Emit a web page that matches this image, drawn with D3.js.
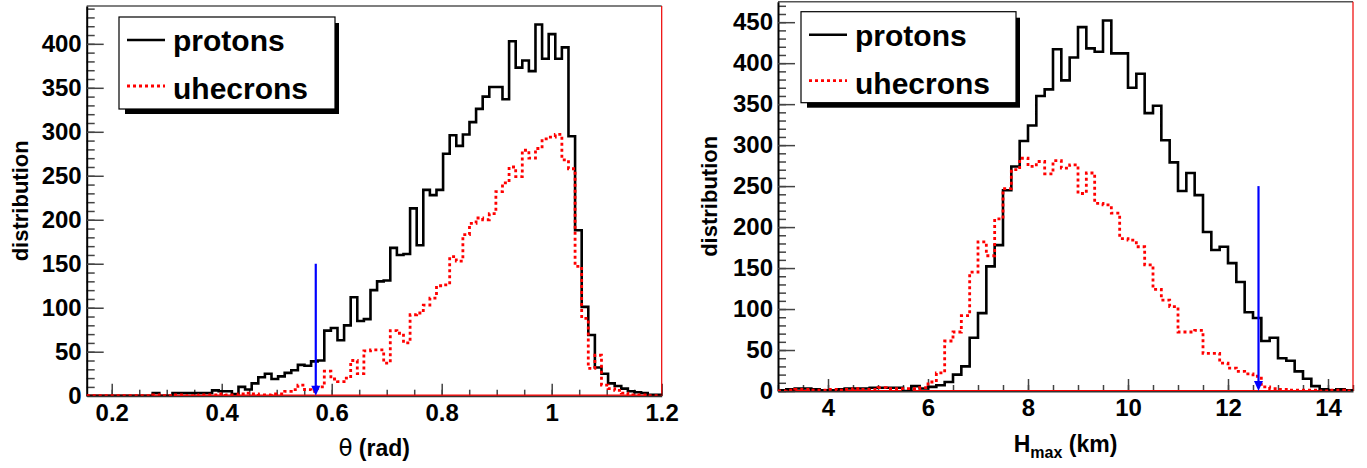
<!DOCTYPE html>
<html>
<head>
<meta charset="utf-8">
<script src="https://cdn.jsdelivr.net/npm/d3@7"></script>
<style>
  body { margin: 0; background: #fff; }
  svg { display: block; }
</style>
</head>
<body>
<svg id="chart" width="1367" height="468"></svg>
<script>
// ---- data ----
// theta histogram: 87 bins of 0.012 rad starting at 0.1545
const thetaBinStart = 0.1545;
const thetaBinWidth = 0.012;
const thetaProtons = [
  0, 0, 0, 0, 0, 0, 0, 0, 0, 0,
  3, 0, 0, 3, 3, 3, 3, 3, 3, 6,
  5, 5, 2, 10, 7, 14, 21, 25, 19, 22,
  26, 29, 35, 34, 39, 40, 74, 77, 63, 80,
  112, 85, 87, 120, 130, 131, 168, 160, 161, 213,
  171, 234, 228, 234, 275, 296, 284, 297, 311, 326,
  340, 351, 351, 337, 403, 373, 381, 369, 422, 383,
  411, 383, 396, 295, 188, 101, 69, 32, 25, 14,
  11, 8, 5, 4, 3, 1, 1
];
const thetaUhecrons = [
  0, 0, 0, 0, 0, 0, 0, 0, 0, 0,
  1, 0, 0, 1, 1, 0, 0, 1, 1, 1,
  2, 1, 1, 2, 3, 2, 1, 1, 2, 2,
  5, 7, 12, 7, 5, 10, 28, 19, 16, 20,
  40, 25, 51, 52, 52, 37, 74, 71, 60, 92,
  94, 103, 111, 125, 126, 158, 153, 183, 196, 202,
  200, 207, 232, 242, 260, 249, 279, 270, 281, 292,
  294, 297, 268, 258, 147, 88, 31, 46, 12, 8,
  6, 3, 1, 1, 1, 0, 0
];
const thetaXTicks = [0.2, 0.4, 0.6, 0.8, 1.0, 1.2];
const thetaYTicks = [0, 50, 100, 150, 200, 250, 300, 350, 400];
const thetaCut = 0.571;
const thetaCutTop = 150;

// Hmax histogram: 69 bins of 1/6 km starting at 3 km
const hmaxBinStart = 3;
const hmaxBinWidth = 1 / 6;
const hmaxProtons = [
  1, 2, 3, 3, 2, 1, 1, 2, 3, 3,
  3, 4, 4, 4, 4, 0, 6, 3, 5, 7,
  11, 20, 30, 65, 95, 152, 178, 245, 274, 305,
  324, 360, 368, 417, 379, 407, 444, 418, 414, 452,
  412, 412, 370, 387, 339, 348, 306, 279, 244, 266,
  239, 194, 172, 176, 156, 133, 96, 89, 61, 65,
  40, 37, 24, 15, 6, 2, 1, 2, 1
];
const hmaxUhecrons = [
  0, 1, 2, 2, 1, 1, 2, 1, 2, 3,
  2, 2, 4, 3, 3, 3, 3, 4, 11, 22,
  61, 72, 92, 145, 182, 165, 210, 247, 270, 284,
  274, 280, 265, 281, 272, 276, 241, 266, 229, 227,
  217, 186, 184, 176, 154, 124, 111, 103, 72, 72,
  74, 46, 46, 34, 28, 24, 21, 18, 5, 3,
  2, 1, 1, 1, 1, 0, 1, 1, 0
];
const hmaxXTicks = [4, 6, 8, 10, 12, 14];
const hmaxYTicks = [0, 50, 100, 150, 200, 250, 300, 350, 400, 450];
const hmaxCut = 12.61;
const hmaxCutTop = 250;

const seriesNames = ['protons', 'uhecrons'];

const FONT = '"Liberation Sans", Arial, Helvetica, sans-serif';
const svg = d3.select('#chart');

function stepPath(counts, start, width, x, y) {
  let p = `M${x(start)},${y(0)}`;
  counts.forEach((c, i) => {
    p += `V${y(c)}H${x(start + (i + 1) * width)}`;
  });
  return p + `V${y(0)}`;
}

function drawPanel(cfg) {
  const x = d3.scaleLinear().domain(cfg.xDomain).range([cfg.left, cfg.right]);
  const y = d3.scaleLinear().domain(cfg.yDomain).range([cfg.bottom, cfg.top]);
  const g = svg.append('g');

  g.append('clipPath').attr('id', cfg.id + '-clip')
    .append('rect')
    .attr('x', cfg.left).attr('y', cfg.top)
    .attr('width', cfg.right - cfg.left).attr('height', cfg.bottom - cfg.top);

  // frame top
  g.append('line')
    .attr('x1', cfg.left).attr('x2', cfg.right)
    .attr('y1', cfg.top).attr('y2', cfg.top)
    .attr('stroke', '#555').attr('stroke-width', 1.5);

  // minor ticks
  const yMinor = d3.range(cfg.yDomain[0], cfg.yDomain[1], 10);
  g.append('g')
    .attr('transform', `translate(${cfg.left},0)`)
    .call(d3.axisLeft(y).tickValues(yMinor).tickSizeInner(-8).tickSizeOuter(0).tickFormat(''))
    .call(s => s.select('.domain').remove())
    .selectAll('line').attr('stroke', '#444').attr('stroke-width', 1.5);

  const xMinor = d3.range(Math.ceil(cfg.xDomain[0] / cfg.xMinorStep) * cfg.xMinorStep, cfg.xDomain[1] + 1e-9, cfg.xMinorStep);
  g.append('g')
    .attr('transform', `translate(0,${cfg.bottom})`)
    .call(d3.axisBottom(x).tickValues(xMinor).tickSizeInner(-6).tickSizeOuter(0).tickFormat(''))
    .call(s => s.select('.domain').remove())
    .selectAll('line').attr('stroke', '#444').attr('stroke-width', 1.5);

  // major axes
  const yAxis = g.append('g')
    .attr('transform', `translate(${cfg.left},0)`)
    .call(d3.axisLeft(y).tickValues(cfg.yTicks).tickSizeInner(-17).tickSizeOuter(0).tickPadding(5));
  yAxis.select('.domain').attr('stroke', '#000').attr('stroke-width', 2);
  yAxis.selectAll('line').attr('stroke', '#444').attr('stroke-width', 1.5);

  const xAxis = g.append('g')
    .attr('transform', `translate(0,${cfg.bottom})`)
    .call(d3.axisBottom(x).tickValues(cfg.xTicks).tickSizeInner(-12).tickSizeOuter(0).tickPadding(8)
      .tickFormat(d3.format('~g')));
  xAxis.select('.domain').attr('stroke', '#333').attr('stroke-width', 2);
  xAxis.selectAll('line').attr('stroke', '#444').attr('stroke-width', 1.5);

  [yAxis, xAxis].forEach(a => a.attr('font-family', FONT).attr('font-size', 24)
    .attr('font-weight', 'bold').selectAll('text').attr('fill', '#000'));

  // red frame edges (right side and baseline)
  g.append('line')
    .attr('x1', cfg.right).attr('x2', cfg.right).attr('y1', cfg.top).attr('y2', cfg.bottom)
    .attr('stroke', '#e00').attr('stroke-width', 1.2);
  g.append('line')
    .attr('x1', cfg.left).attr('x2', cfg.right).attr('y1', cfg.bottom - 0.5).attr('y2', cfg.bottom - 0.5)
    .attr('stroke', '#f00').attr('stroke-width', 1.2);

  // histograms
  const plot = g.append('g').attr('clip-path', `url(#${cfg.id}-clip)`);
  plot.append('path')
    .attr('d', stepPath(cfg.protons, cfg.binStart, cfg.binWidth, x, y))
    .attr('fill', 'none').attr('stroke', '#000').attr('stroke-width', 2.6);
  plot.append('path')
    .attr('d', stepPath(cfg.uhecrons, cfg.binStart, cfg.binWidth, x, y))
    .attr('fill', 'none').attr('stroke', '#f00').attr('stroke-width', 2.8)
    .attr('stroke-dasharray', '3,3');

  // blue cut arrow
  const ax = x(cfg.cut);
  g.append('line')
    .attr('x1', ax).attr('x2', ax).attr('y1', y(cfg.cutTop)).attr('y2', y(0) - 6)
    .attr('stroke', '#00f').attr('stroke-width', 2.2);
  g.append('path')
    .attr('d', `M${ax - 4.5},${y(0) - 10}L${ax + 4.5},${y(0) - 10}L${ax},${y(0)}Z`)
    .attr('fill', '#00f');

  // axis titles
  const xt = g.append('text')
    .attr('x', (cfg.left + cfg.right) / 2).attr('y', cfg.xTitleY)
    .attr('text-anchor', 'middle')
    .attr('font-family', FONT).attr('font-size', 23).attr('font-weight', 'bold');
  cfg.xTitle(xt);

  g.append('text')
    .attr('transform', `translate(${cfg.yTitleX},${(cfg.top + cfg.bottom) / 2}) rotate(-90)`)
    .attr('text-anchor', 'middle')
    .attr('font-family', FONT).attr('font-size', 22).attr('font-weight', 'bold')
    .text('distribution');

  // legend
  const L = cfg.legend;
  const lg = g.append('g').attr('transform', `translate(${L.x},${L.y})`);
  lg.append('rect').attr('x', 6).attr('y', 6).attr('width', L.w - 2).attr('height', L.h - 1)
    .attr('fill', '#000');
  lg.append('rect').attr('x', 0).attr('y', 0).attr('width', L.w).attr('height', L.h)
    .attr('fill', '#fff').attr('stroke', '#000').attr('stroke-width', 1.2);
  const rows = [
    { name: seriesNames[0], color: '#000', dash: null, width: 2.6, lineY: 23, textY: 34 },
    { name: seriesNames[1], color: '#f00', dash: '3,3', width: 2.8, lineY: 69, textY: 82 }
  ];
  rows.forEach(r => {
    lg.append('line')
      .attr('x1', 8).attr('x2', 46).attr('y1', r.lineY).attr('y2', r.lineY)
      .attr('stroke', r.color).attr('stroke-width', r.width)
      .attr('stroke-dasharray', r.dash);
    lg.append('text')
      .attr('x', 54).attr('y', r.textY)
      .attr('font-family', FONT).attr('font-size', 30).attr('font-weight', 'bold')
      .text(r.name);
  });
}

drawPanel({
  id: 'theta',
  left: 86.7, right: 661.7, top: 6, bottom: 395.7,
  xDomain: [0.1545, 1.2], yDomain: [0, 443],
  xTicks: thetaXTicks, yTicks: thetaYTicks, xMinorStep: 0.05,
  binStart: thetaBinStart, binWidth: thetaBinWidth,
  protons: thetaProtons, uhecrons: thetaUhecrons,
  cut: thetaCut, cutTop: thetaCutTop,
  xTitleY: 456, yTitleX: 27.5,
  xTitle: t => {
    t.append('tspan').attr('font-weight', 'normal').attr('font-family', '"DejaVu Sans", sans-serif').text('θ');
    t.append('tspan').text(' (rad)');
  },
  legend: { x: 119, y: 17, w: 216, h: 92 }
});

drawPanel({
  id: 'hmax',
  left: 778, right: 1353, top: 1.7, bottom: 391,
  xDomain: [3, 14.5], yDomain: [0, 475],
  xTicks: hmaxXTicks, yTicks: hmaxYTicks, xMinorStep: 0.5,
  binStart: hmaxBinStart, binWidth: hmaxBinWidth,
  protons: hmaxProtons, uhecrons: hmaxUhecrons,
  cut: hmaxCut, cutTop: hmaxCutTop,
  xTitleY: 452, yTitleX: 716.5,
  xTitle: t => {
    t.append('tspan').text('H');
    t.append('tspan').attr('font-size', 16).attr('dy', 6).text('max');
    t.append('tspan').attr('dy', -6).text(' (km)');
  },
  legend: { x: 801, y: 11.7, w: 215, h: 91 }
});
</script>
</body>
</html>
